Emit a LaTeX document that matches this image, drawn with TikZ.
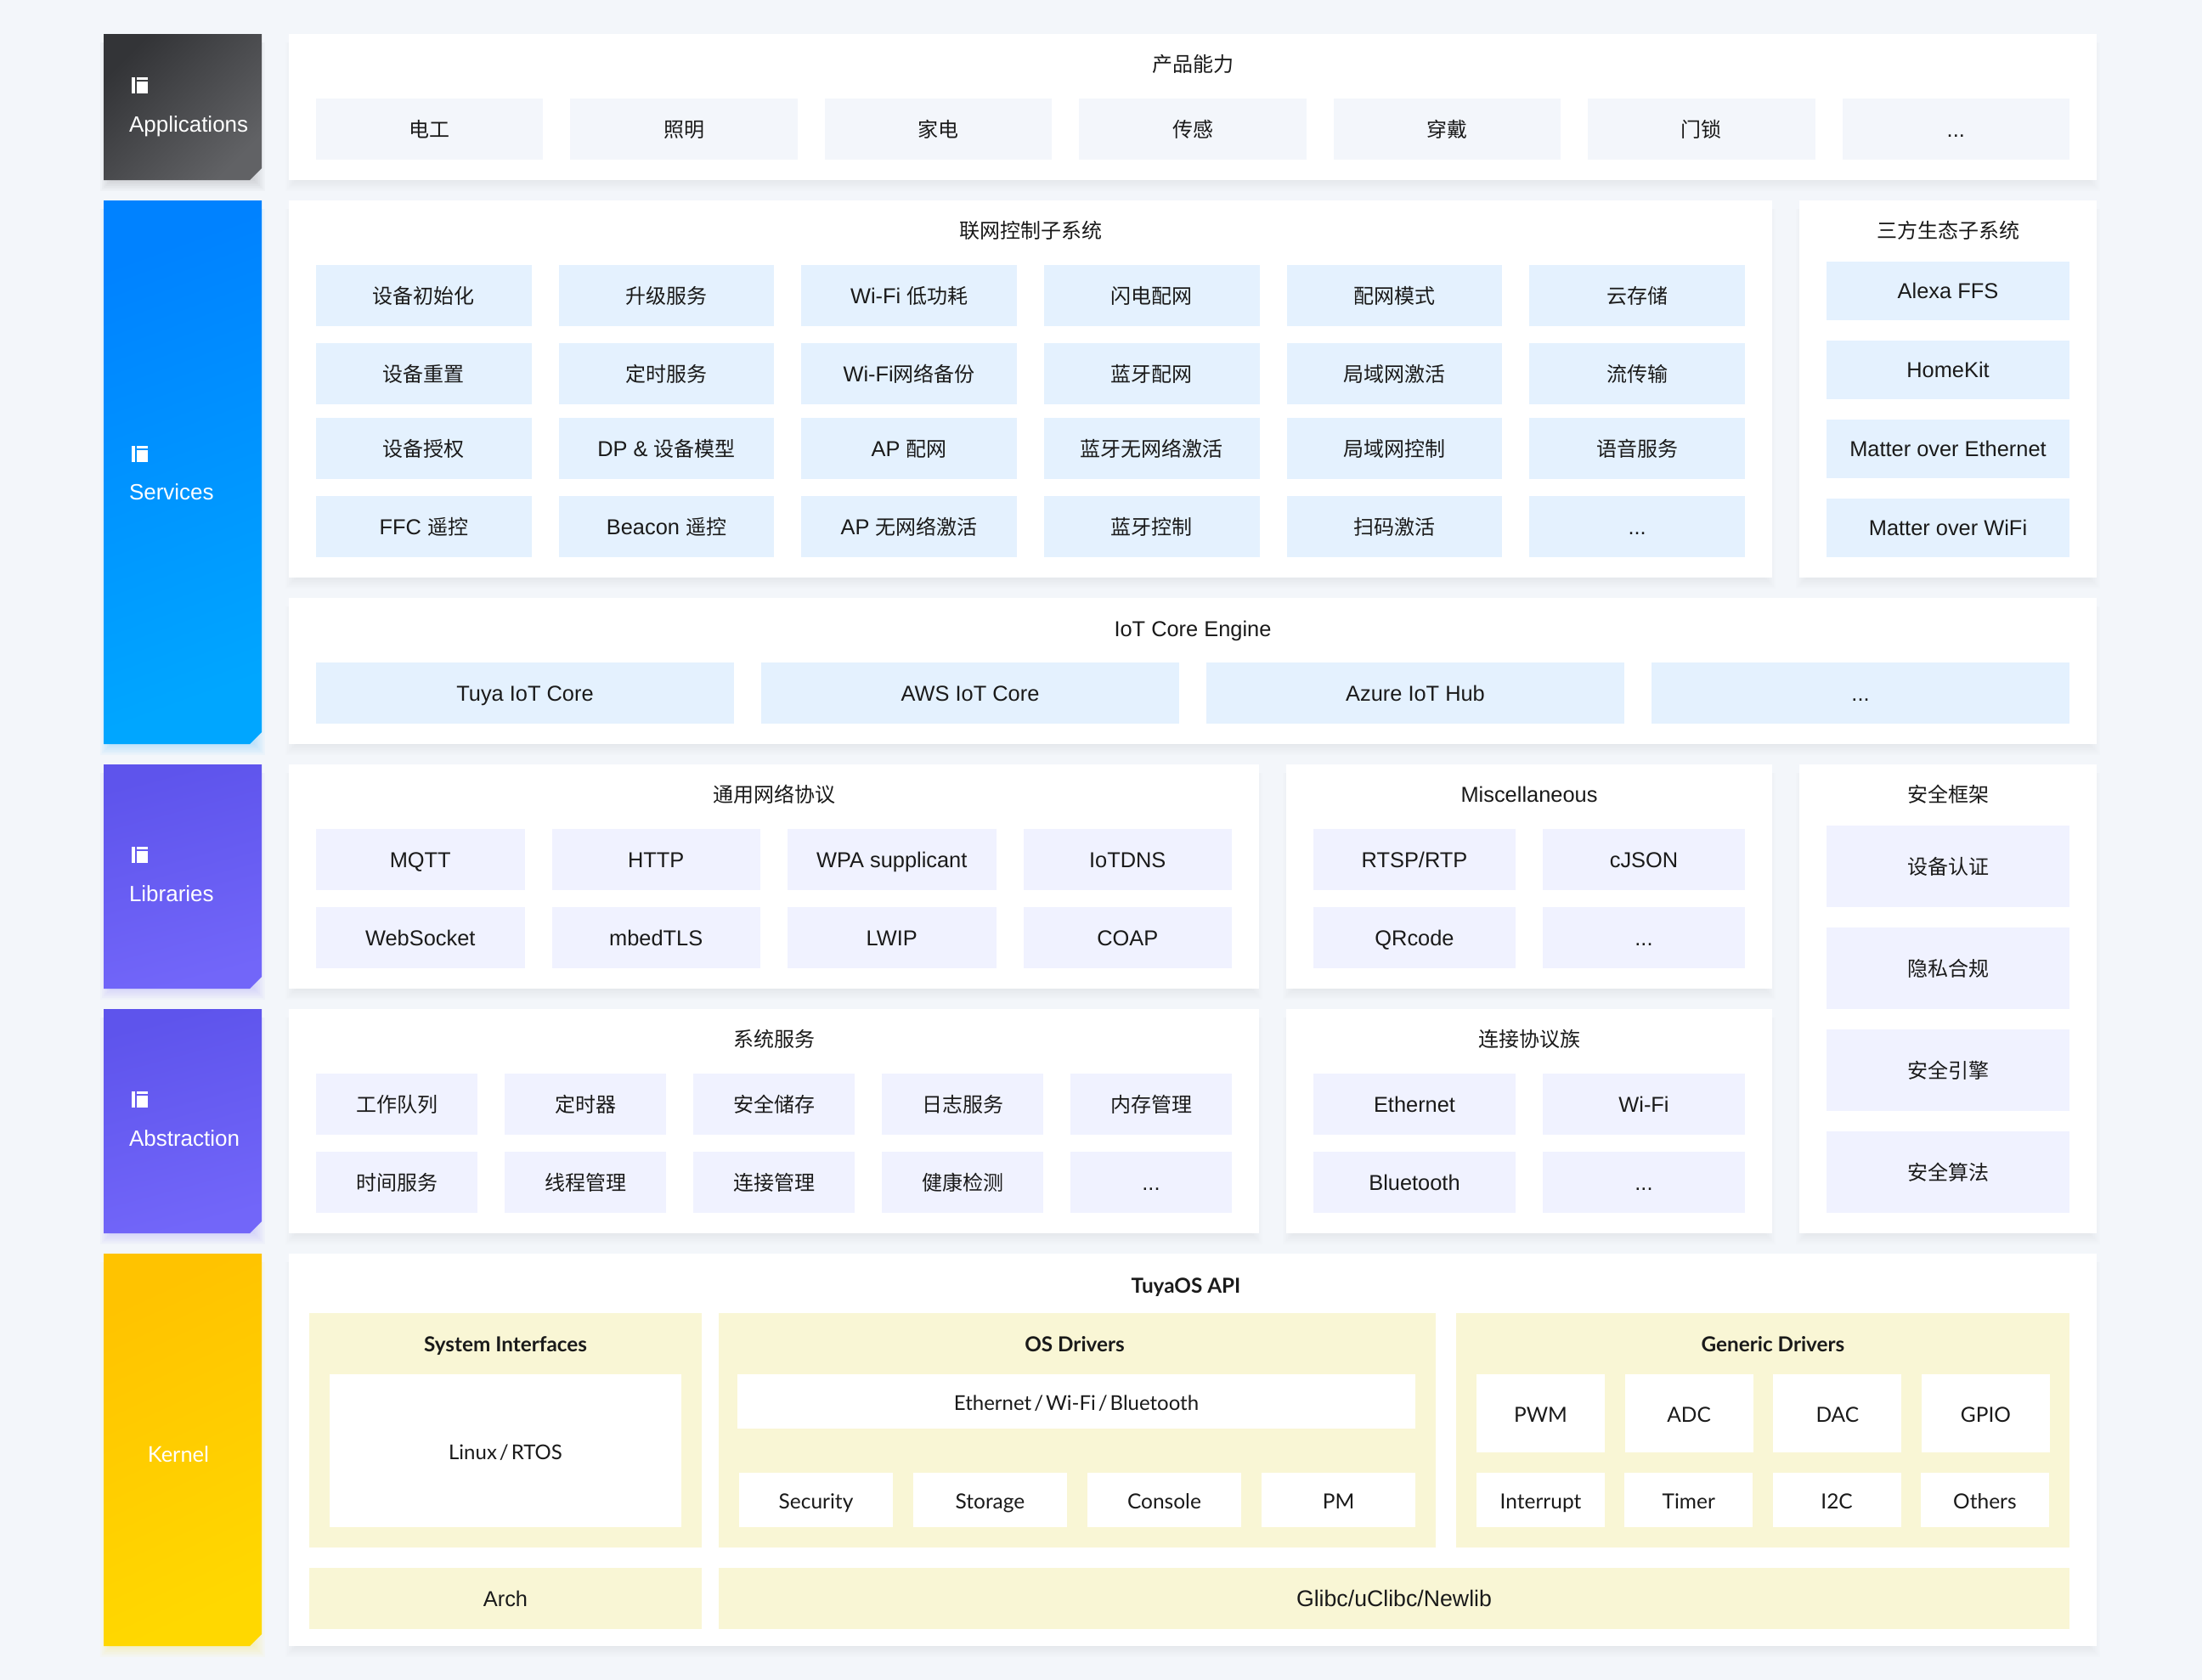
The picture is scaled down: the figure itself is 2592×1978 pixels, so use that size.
\documentclass[tikz,border=0pt]{standalone}
\usepackage{fontspec}
\setmainfont{Liberation Sans}
\newfontfamily\cjkfam{Noto Sans CJK SC}
\newfontfamily\latofam{Lato}
\newcommand\zh[1]{{\cjkfam\fontsize{24}{28}\selectfont #1}}
\newcommand\threedots{...}
\definecolor{pagebg}{HTML}{F3F6FA}
\definecolor{inktext}{HTML}{1A1A1A}
\definecolor{cellgrey}{HTML}{F3F6FB}
\definecolor{cellblue}{HTML}{E4F1FE}
\definecolor{cellviolet}{HTML}{F0F2FF}
\definecolor{cellyellow}{HTML}{F9F6D5}
\definecolor{panelshade}{HTML}{5A6A8A}
\definecolor{appA}{HTML}{333437}
\definecolor{appB}{HTML}{616265}
\definecolor{svcA}{HTML}{0082FF}
\definecolor{svcB}{HTML}{00A6FF}
\definecolor{libA}{HTML}{5E54EC}
\definecolor{libB}{HTML}{7266F9}
\definecolor{kerA}{HTML}{FFC300}
\definecolor{kerB}{HTML}{FFD800}
\tikzset{
  cellbase/.style={inner sep=0pt,outer sep=0pt,align=center,text=inktext,text height=19pt,text depth=0pt,font=\fontsize{25.4}{30}\selectfont},
  panelbox/.style={cellbase,fill=white},
  greycell/.style={cellbase,fill=cellgrey},
  bluecell/.style={cellbase,fill=cellblue},
  ecocell/.style={cellbase,fill=cellblue,text height=17.5pt},
  violetcell/.style={cellbase,fill=cellviolet},
  yellowcell/.style={cellbase,fill=cellyellow},
  whitecell/.style={cellbase,fill=white,text height=21pt,font=\latofam\fontsize{24.5}{30}\selectfont},
  titletext/.style={cellbase},
  latotitle/.style={cellbase,font=\latofam\bfseries\fontsize{24.3}{30}\selectfont},
  cardtext/.style={inner sep=0pt,outer sep=0pt,anchor=base west,text=white,font=\fontsize{26}{30}\selectfont},
}
% rectangle node between two corners: style, x1,y1,x2,y2, name, text
\newcommand\boxnode[7]{%
  \pgfmathsetmacro\bw{#4-#2}\pgfmathsetmacro\bh{#5-#3}%
  \pgfmathsetmacro\bx{(#2+#4)/2}\pgfmathsetmacro\by{(#3+#5)/2}%
  \node[#1,minimum width=\bw pt,minimum height=\bh pt] (#6) at (\bx,\by) {#7};}
% soft shadow under a rectangle: x1,y1,x2,y2,colour,opacity,largest spread
\newcommand\softshadow[7]{%
  \foreach \r in {2,4,...,#7}{%
    \fill[#5,opacity=#6] ({#1+12-\r},{#2+10}) rectangle ({#3-12+\r},{#4-3+\r});}}
% a panel with shadow: name,x1,y1,x2,y2
\newcommand\panel[5]{%
  \softshadow{#2}{#3}{#4}{#5}{panelshade}{0.011}{16}%
  \boxnode{panelbox}{#2}{#3}{#4}{#5}{#1}{}}
% a row of equal cells: name, style, x0, w, gap, y1, y2, list
\newcommand\cellrow[8]{%
  \foreach \t [count=\i from 0] in {#8}{%
    \pgfmathsetmacro\cx{#3+\i*(#4+#5)+#4/2}%
    \pgfmathsetmacro\cy{(#6+#7)/2}%
    \pgfmathsetmacro\ch{#7-#6}%
    \node[#2,minimum width=#4 pt,minimum height=\ch pt] (#1-\i) at (\cx,\cy) {\t};}}
% side card: angle,x1,y1,x2,y2,colorA,colorB
\newcommand\sidecard[7]{%
  \softshadow{#2}{#3}{#4}{#5}{#7}{0.03}{16}%
  \shade[top color=#6,bottom color=#7,shading angle=#1] (#2,#3) -- (#4,#3) -- (#4,#5-14) -- (#4-14,#5) -- (#2,#5) -- cycle;}
\newcommand\cardicon[2]{%
  \fill[white] (#1,#2) rectangle (#1+4.5,#2+19);
  \fill[white] (#1+6.5,#2) rectangle (#1+19,#2+2.5);
  \fill[white] (#1+6.5,#2+4.5) rectangle (#1+19,#2+19);}
\begin{document}
\begin{tikzpicture}[x=1pt,y=-1pt]
\useasboundingbox (0,0) rectangle (2592,1978);
\fill[pagebg] (0,0) rectangle (2592,1978);

% side cards
\sidecard{45}{122}{40}{308}{212}{appA}{appB}
\sidecard{20}{122}{236}{308}{876}{svcA}{svcB}
\sidecard{15}{122}{900}{308}{1164}{libA}{libB}
\sidecard{15}{122}{1188}{308}{1452}{libA}{libB}
\sidecard{25}{122}{1476}{308}{1938}{kerA}{kerB}
\cardicon{154.5}{91}
\cardicon{154.5}{525}
\cardicon{154.5}{997}
\cardicon{154.5}{1285}
\node[cardtext] (capp) at (152,155) {Applications};
\node[cardtext] (csvc) at (152,588) {Services};
\node[cardtext] (clib) at (152,1061) {Libraries};
\node[cardtext] (cabs) at (152,1349) {Abstraction};
\node[cardtext,anchor=center,font=\latofam\fontsize{25.5}{30}\selectfont] (cker) at (210,1712) {Kernel};

% panels
\panel{pprod}{340}{40}{2468}{212}
\panel{pnet}{340}{236}{2086}{680}
\panel{peco}{2118}{236}{2468}{680}
\panel{pcore}{340}{704}{2468}{876}
\panel{pproto}{340}{900}{1482}{1164}
\panel{pmisc}{1514}{900}{2086}{1164}
\panel{psec}{2118}{900}{2468}{1452}
\panel{psys}{340}{1188}{1482}{1452}
\panel{pconn}{1514}{1188}{2086}{1452}
\panel{pker}{340}{1476}{2468}{1938}

% Applications
\node[titletext] (tprod) at (1404,75) {\zh{产品能力}};
\cellrow{prod}{greycell}{372}{267.43}{32}{116}{188}{\zh{电工},\zh{照明},\zh{家电},\zh{传感},\zh{穿戴},\zh{门锁},\threedots}

% Network control
\node[titletext] (tnet) at (1213,271) {\zh{联网控制子系统}};
\cellrow{neta}{bluecell}{372}{253.67}{32}{312}{384}{\zh{设备初始化},\zh{升级服务},Wi-Fi \zh{低功耗},\zh{闪电配网},\zh{配网模式},\zh{云存储}}
\cellrow{netb}{bluecell}{372}{253.67}{32}{404}{476}{\zh{设备重置},\zh{定时服务},Wi-Fi\zh{网络备份},\zh{蓝牙配网},\zh{局域网激活},\zh{流传输}}
\cellrow{netc}{bluecell}{372}{253.67}{32}{492}{564}{\zh{设备授权},DP \& \zh{设备模型},AP \zh{配网},\zh{蓝牙无网络激活},\zh{局域网控制},\zh{语音服务}}
\cellrow{netd}{bluecell}{372}{253.67}{32}{584}{656}{FFC \zh{遥控},Beacon \zh{遥控},AP \zh{无网络激活},\zh{蓝牙控制},\zh{扫码激活},\threedots}

% Third-party eco
\node[titletext] (teco) at (2293,271) {\zh{三方生态子系统}};
\boxnode{ecocell}{2150}{308}{2436}{377}{ecoa}{Alexa FFS}
\boxnode{ecocell}{2150}{401}{2436}{470}{ecob}{HomeKit}
\boxnode{ecocell}{2150}{494}{2436}{563}{ecoc}{Matter over Ethernet}
\boxnode{ecocell}{2150}{587}{2436}{656}{ecod}{Matter over WiFi}

% IoT core
\node[titletext] (tcore) at (1404,740) {IoT Core Engine};
\cellrow{core}{bluecell}{372}{492}{32}{780}{852}{Tuya IoT Core,AWS IoT Core,Azure IoT Hub,\threedots}

% Protocols
\node[titletext] (tproto) at (911,935) {\zh{通用网络协议}};
\cellrow{protoa}{violetcell}{372}{245.5}{32}{976}{1048}{MQTT,HTTP,WPA supplicant,IoTDNS}
\cellrow{protob}{violetcell}{372}{245.5}{32}{1068}{1140}{WebSocket,mbedTLS,LWIP,COAP}

% Misc
\node[titletext] (tmisc) at (1800,935) {Miscellaneous};
\cellrow{misca}{violetcell}{1546}{238}{32}{976}{1048}{RTSP/RTP,cJSON}
\cellrow{miscb}{violetcell}{1546}{238}{32}{1068}{1140}{QRcode,\threedots}

% Security
\node[titletext] (tsec) at (2293,935) {\zh{安全框架}};
\boxnode{violetcell}{2150}{972}{2436}{1068}{seca}{\zh{设备认证}}
\boxnode{violetcell}{2150}{1092}{2436}{1188}{secb}{\zh{隐私合规}}
\boxnode{violetcell}{2150}{1212}{2436}{1308}{secc}{\zh{安全引擎}}
\boxnode{violetcell}{2150}{1332}{2436}{1428}{secd}{\zh{安全算法}}

% System services
\node[titletext] (tsys) at (911,1223) {\zh{系统服务}};
\cellrow{sysa}{violetcell}{372}{190}{32}{1264}{1336}{\zh{工作队列},\zh{定时器},\zh{安全储存},\zh{日志服务},\zh{内存管理}}
\cellrow{sysb}{violetcell}{372}{190}{32}{1356}{1428}{\zh{时间服务},\zh{线程管理},\zh{连接管理},\zh{健康检测},\threedots}

% Connectivity
\node[titletext] (tconn) at (1800,1223) {\zh{连接协议族}};
\cellrow{conna}{violetcell}{1546}{238}{32}{1264}{1336}{Ethernet,Wi-Fi}
\cellrow{connb}{violetcell}{1546}{238}{32}{1356}{1428}{Bluetooth,\threedots}

% Kernel
\node[latotitle] (tker) at (1396,1513) {TuyaOS API};
\boxnode{yellowcell}{364}{1546}{826}{1822}{ysys}{}
\boxnode{yellowcell}{846}{1546}{1690}{1822}{yos}{}
\boxnode{yellowcell}{1714}{1546}{2436}{1822}{ygen}{}
\boxnode{yellowcell}{364}{1846}{826}{1918}{yarch}{Arch}
\boxnode{yellowcell,font=\fontsize{26.7}{30}\selectfont}{846}{1846}{2436}{1918}{ylib}{Glibc/uClibc/Newlib}
\node[latotitle] (tysys) at (595,1582) {System Interfaces};
\node[latotitle] (tyos) at (1265,1582) {OS Drivers};
\node[latotitle] (tygen) at (2087,1582) {Generic Drivers};
\boxnode{whitecell,font=\latofam\fontsize{24}{30}\selectfont}{388}{1618}{802}{1798}{wlinux}{\spaceskip=3pt Linux / RTOS}
\boxnode{whitecell,font=\latofam\fontsize{24}{30}\selectfont}{868}{1618}{1666}{1682}{weth}{\spaceskip=3pt Ethernet / Wi-Fi / Bluetooth}
\cellrow{wos}{whitecell}{870}{181}{24}{1734}{1798}{Security,Storage,Console,PM}
\cellrow{wgena}{whitecell}{1738}{151}{23.67}{1618}{1710}{PWM,ADC,DAC,GPIO}
\cellrow{wgenb}{whitecell}{1738}{151}{23.3}{1734}{1798}{Interrupt,Timer,I2C,Others}
\end{tikzpicture}
\end{document}
